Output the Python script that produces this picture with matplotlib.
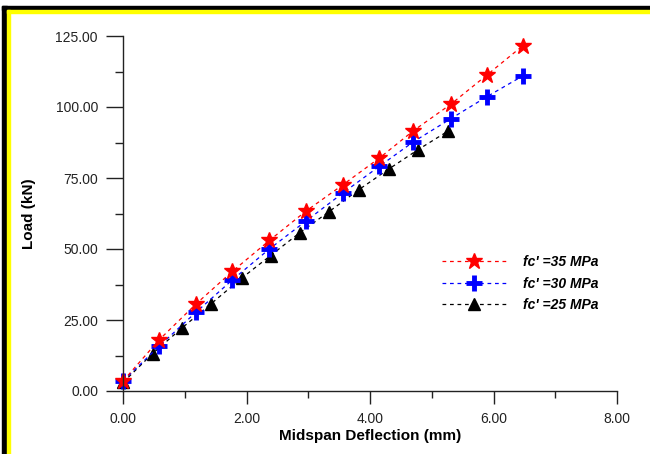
"""Load vs midspan deflection for three concrete strengths."""
import matplotlib
matplotlib.use("Agg")
import matplotlib.pyplot as plt
from matplotlib.patches import Rectangle
from matplotlib.ticker import MultipleLocator, FormatStrFormatter

plt.rcParams["font.family"] = ["Liberation Sans", "DejaVu Sans"]

# deflection (mm) and load (kN)
defl_35 = [0.00, 0.58, 1.18, 1.77, 2.37, 2.96, 3.56, 4.15, 4.70, 5.31, 5.89, 6.47]
load_35 = [3.5, 17.9, 30.6, 42.1, 53.0, 63.3, 72.6, 82.0, 91.6, 101.0, 111.2, 121.5]

defl_30 = [0.00, 0.59, 1.18, 1.77, 2.37, 2.96, 3.56, 4.15, 4.70, 5.31, 5.89, 6.47]
load_30 = [3.5, 15.9, 27.7, 39.1, 50.0, 59.8, 69.7, 79.1, 87.7, 95.9, 103.6, 110.9]

defl_25 = [0.00, 0.48, 0.95, 1.43, 1.92, 2.39, 2.86, 3.34, 3.82, 4.30, 4.78, 5.27]
load_25 = [3.0, 13.2, 22.1, 30.8, 39.7, 47.7, 55.7, 63.2, 70.9, 78.1, 85.0, 91.6]

labels = ["fc' =35 MPa", "fc' =30 MPa", "fc' =25 MPa"]

W, H = 650, 454
fig = plt.figure(figsize=(6.5, 4.54), dpi=100)
ax = fig.add_axes([123 / W, 1 - 391 / H, (617 - 123) / W, (391 - 36) / H])

ax.plot(defl_25, load_25, "--", color="black", lw=0.9, dashes=(3, 3),
        marker="^", ms=8, mfc="black", mec="black", clip_on=False, label=labels[2])
ax.plot(defl_30, load_30, "--", color="blue", lw=0.9, dashes=(3, 3),
        marker="+", ms=12, mew=3.5, mec="blue", clip_on=False, label=labels[1])
ax.plot(defl_35, load_35, "--", color="red", lw=0.9, dashes=(3, 3),
        marker="*", ms=12, mfc="red", mec="red", clip_on=False, label=labels[0])

ax.set_xlim(0, 8)
ax.set_ylim(0, 125)
ax.xaxis.set_major_locator(MultipleLocator(2))
ax.xaxis.set_minor_locator(MultipleLocator(1))
ax.yaxis.set_major_locator(MultipleLocator(25))
ax.yaxis.set_minor_locator(MultipleLocator(12.5))
ax.xaxis.set_major_formatter(FormatStrFormatter("%.2f"))
ax.yaxis.set_major_formatter(FormatStrFormatter("%.2f"))

for s in ["top", "right"]:
    ax.spines[s].set_visible(False)
for s in ["left", "bottom"]:
    ax.spines[s].set_linewidth(1.0)
    ax.spines[s].set_color("#222222")

ax.tick_params(axis="x", which="major", length=9, width=1.0, pad=6,
               labelsize=10, colors="#222222")
ax.tick_params(axis="x", which="minor", length=5, width=1.0, colors="#222222")
ax.tick_params(axis="y", which="major", length=12, width=1.0, pad=6,
               labelsize=10, colors="#222222")
ax.tick_params(axis="y", which="minor", length=6, width=1.0, colors="#222222")

ax.set_xlabel("Midspan Deflection (mm)", fontsize=11, fontweight="bold", labelpad=2)
ax.set_ylabel("Load (kN)", fontsize=11, fontweight="bold", labelpad=14)

# legend in the original order, red first
handles, _ = ax.get_legend_handles_labels()
leg = ax.legend(handles[::-1], labels, loc="upper left",
                bbox_to_anchor=(442 / W, 1 - 255 / H),
                bbox_transform=fig.transFigure, frameon=False, numpoints=1,
                handlelength=4.6, handletextpad=1.2, labelspacing=0.55,
                borderpad=0, borderaxespad=0,
                prop={"size": 10, "weight": "bold", "style": "italic"})

# black and yellow frame round the picture
fig.patches.extend([
    Rectangle((2, 0), 5, H - 6, color="black", transform=None, figure=fig),
    Rectangle((2, H - 10), W - 2, 4, color="black", transform=None, figure=fig),
    Rectangle((7, 0), 3, H - 10, color="yellow", transform=None, figure=fig),
    Rectangle((7, H - 12.5), W - 7, 2.5, color="yellow", transform=None, figure=fig),
])

fig.savefig("out.png", dpi=100)
plt.close(fig)
